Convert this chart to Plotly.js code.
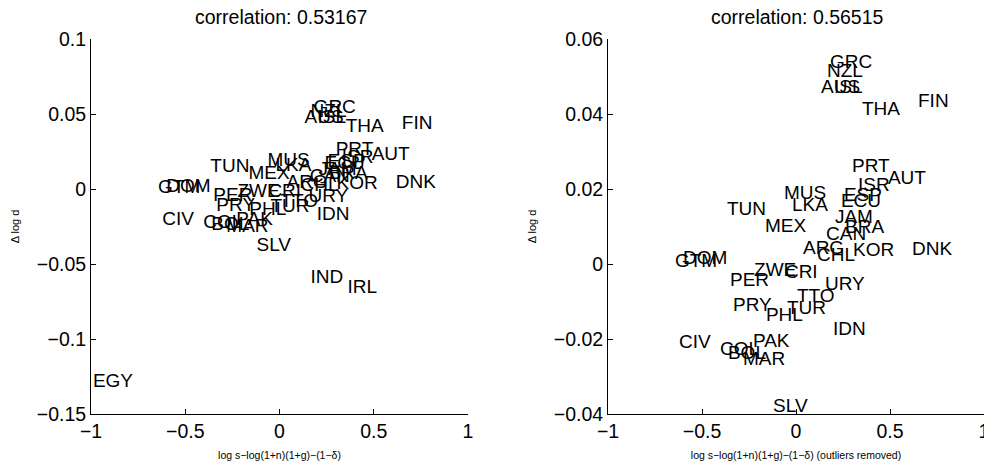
<!DOCTYPE html>
<html><head><meta charset="utf-8">
<script src="https://cdn.plot.ly/plotly-3.0.1.min.js"></script>
<style>body{margin:0;background:#fff}</style>
</head><body><div id="chart" style="width:984px;height:468px"></div>
<script>
const countries = ['GRC','NZL','AUS','ISL','THA','FIN','PRT','ISR','AUT','MUS','LKA','ESP','ECU','TUN','JAM','MEX','CAN','BRA','ARG','CHL','KOR','DNK','GTM','DOM','ZWE','CRI','PER','URY','TTO','PRY','PHL','TUR','IDN','CIV','COL','BOL','PAK','MAR','SLV','EGY','IND','IRL'];
const xVals = [0.181,0.165,0.133,0.202,0.351,0.649,0.298,0.330,0.489,-0.064,-0.021,0.255,0.239,-0.367,0.207,-0.165,0.160,0.261,0.037,0.112,0.303,0.617,-0.644,-0.601,-0.223,-0.059,-0.351,0.154,0.005,-0.335,-0.160,-0.048,0.197,-0.622,-0.404,-0.362,-0.229,-0.282,-0.122,-0.99,0.164,0.361];
const yVals = [0.0536,0.0512,0.0469,0.0469,0.0411,0.0432,0.0259,0.0208,0.0227,0.0187,0.0155,0.0181,0.0165,0.0144,0.0123,0.0099,0.0077,0.0096,0.0040,0.0021,0.0035,0.0037,0.0005,0.0013,-0.0019,-0.0024,-0.0045,-0.0056,-0.0088,-0.0112,-0.0139,-0.0120,-0.0176,-0.0211,-0.0230,-0.0240,-0.0208,-0.0256,-0.0381,-0.1287,-0.0593,-0.0660];
const outliers = ['EGY','IND','IRL'];
const titles = ['correlation: 0.53167','correlation: 0.56515'];
const xTitles = ['log s\u2212log(1+n)(1+g)\u2212(1\u2212\u03b4)','log s\u2212log(1+n)(1+g)\u2212(1\u2212\u03b4) (outliers removed)'];
const yTitle = '\u0394 log d';

const keep = countries.map(c => outliers.indexOf(c) < 0);
const xR = xVals.filter((v,i)=>keep[i]);
const yR = yVals.filter((v,i)=>keep[i]);
const cR = countries.filter((v,i)=>keep[i]);

const FONT = 'Liberation Sans, Arial, Helvetica, sans-serif';
const labelFont = {family: FONT, size: 19, color: '#000'};

const traces = [
  {x: xVals, y: yVals, text: countries, mode: 'text', type: 'scatter', textposition: 'middle right',
   textfont: labelFont, cliponaxis: false, hoverinfo: 'skip', xaxis: 'x', yaxis: 'y'},
  {x: xR, y: yR, text: cR, mode: 'text', type: 'scatter', textposition: 'middle right',
   textfont: labelFont, cliponaxis: false, hoverinfo: 'skip', xaxis: 'x2', yaxis: 'y2'}
];

const axBase = {showline: true, linecolor: '#000', linewidth: 1, ticks: 'inside', ticklen: 5, tickcolor: '#000',
  showgrid: false, zeroline: false, tickfont: {family: FONT, size: 19.5, color: '#000'}, ticklabeloverflow: 'allow'};

const yDom = [(468-414)/468, (468-39)/468];
const layout = {
  width: 984, height: 468, margin: {l: 0, r: 0, t: 0, b: 0}, showlegend: false,
  paper_bgcolor: '#fff', plot_bgcolor: '#fff',
  xaxis: Object.assign({}, axBase, {domain: [91/984, 468/984], range: [-1, 1], dtick: 0.5, tick0: 0, anchor: 'y',
    title: {text: xTitles[0], font: {family: FONT, size: 10.5, color: '#000'}, standoff: 10}}),
  yaxis: Object.assign({}, axBase, {domain: yDom, range: [-0.15, 0.1], dtick: 0.05, tick0: 0, anchor: 'x',
    title: {text: yTitle, font: {family: FONT, size: 11, color: '#000'}, standoff: 14}}),
  xaxis2: Object.assign({}, axBase, {domain: [608/984, 1], range: [-1, 1], dtick: 0.5, tick0: 0, anchor: 'y2',
    title: {text: xTitles[1], font: {family: FONT, size: 10.5, color: '#000'}, standoff: 10}}),
  yaxis2: Object.assign({}, axBase, {domain: yDom, range: [-0.04, 0.06], dtick: 0.02, tick0: 0, anchor: 'x2',
    title: {text: yTitle, font: {family: FONT, size: 11, color: '#000'}, standoff: 14}}),
  annotations: [
    {text: titles[0], xref: 'paper', yref: 'paper', x: 281/984, y: (468-17)/468, xanchor: 'center', yanchor: 'middle',
     showarrow: false, font: {family: FONT, size: 19.5, color: '#000'}},
    {text: titles[1], xref: 'paper', yref: 'paper', x: 797/984, y: (468-17)/468, xanchor: 'center', yanchor: 'middle',
     showarrow: false, font: {family: FONT, size: 19.5, color: '#000'}}
  ]
};
Plotly.newPlot('chart', traces, layout, {displayModeBar: false, staticPlot: true});
</script></body></html>
